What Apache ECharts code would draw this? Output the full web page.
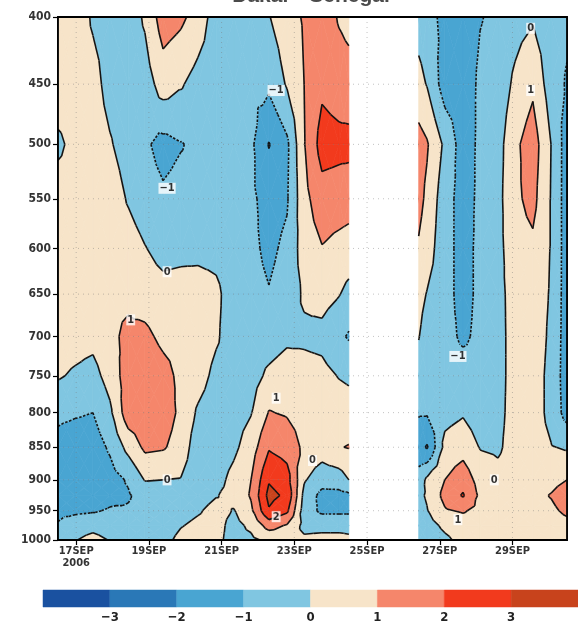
<!DOCTYPE html>
<html><head><meta charset="utf-8">
<script src="https://cdn.jsdelivr.net/npm/echarts@6/dist/echarts.min.js"></script>
<style>html,body{margin:0;padding:0;background:#fff}#c{width:578px;height:627px}</style>
</head><body><div id="c"></div>
<script>
// ---------------- data ----------------
const titleText = 'Dakar - Senegal';
// sample times (day of September 2006); 25.5 column = missing data
const times = [16.5,16.97,17.46,17.93,18.43,18.89,19.39,19.88,20.35,20.85,21.34,21.81,22.30,22.80,23.27,23.76,24.23,24.5,
               25.5,
               26.42,26.65,27.14,27.64,28.11,28.6,29.07,29.56,30.06,30.5];
const levels = [400,450,500,550,600,650,700,750,800,850,900,925,950,975,1000];
// one column per sample time, values from 400 hPa down to 1000 hPa
const field = [
 [0.5,0.6,-0.2,0.48,0.6,0.6,0.5,0.1,-0.8,-1.3,-1.5,-1.4,-1.2,-0.93,-0.6],
 [0.7,0.6,0.3,0.5,0.6,0.6,0.4,-0.14,-0.9,-1.5,-1.7,-1.6,-1.2,-0.45,-0.05],
 [-0.15,0.4,0.6,0.6,0.6,0.7,0.3,-0.35,-1.0,-1.5,-1.8,-1.6,-1.1,-0.3,0.3],
 [-0.5,-0.4,0.1,0.6,0.7,0.8,0.8,0.4,-0.2,-0.85,-1.4,-1.3,-0.9,-0.5,-0.05],
 [-0.6,-0.7,-0.5,-0.1,0.5,0.8,1.2,1.5,1.6,0.3,-0.9,-1.1,-0.9,-0.7,-0.5],
 [0.15,-0.5,-0.85,-0.6,0.05,0.6,1.2,1.6,1.7,1.2,0.05,-0.6,-0.7,-0.6,-0.5],
 [1.5,0.45,-1.3,-0.85,-0.4,0.4,0.8,1.3,1.5,1.1,0.0,-0.5,-0.6,-0.5,-0.3],
 [1.2,0.1,-1.05,-0.7,-0.3,0.45,0.7,0.8,0.8,0.6,-0.05,-0.4,-0.35,-0.05,0.25],
 [0.6,-0.4,-0.8,-0.75,-0.3,0.5,0.7,0.45,-0.15,-0.6,-0.7,-0.4,-0.1,0.2,0.4],
 [-0.5,-0.7,-0.8,-0.7,-0.35,0.25,0.15,-0.3,-0.6,-0.6,-0.35,-0.05,0.3,0.3,0.2],
 [-0.5,-0.6,-0.7,-0.7,-0.7,-0.6,-0.6,-0.5,-0.4,-0.2,0.3,0.3,-0.05,-0.3,-0.3],
 [-0.6,-0.7,-0.8,-0.8,-0.8,-0.7,-0.6,-0.4,-0.05,0.5,1.0,1.1,0.8,0.2,-0.2],
 [-0.05,-0.8,-2.05,-1.4,-1.2,-0.95,-0.5,0.2,1.05,1.9,2.9,3.3,2.9,1.4,0.2],
 [0.6,0.1,-1.2,-1.1,-0.8,-0.6,-0.2,0.5,0.9,1.6,2.4,2.8,2.2,0.9,0.3],
 [1.1,1.0,0.95,0.7,0.5,0.15,-0.2,0.4,0.6,0.8,0.1,-0.3,-0.5,-0.3,0.2],
 [1.6,1.8,2.4,1.6,0.95,0.4,-0.3,0.3,0.6,0.5,-0.6,-1.3,-1.2,-0.3,0.3],
 [0.9,1.5,2.3,1.5,0.7,0.05,-0.8,-0.05,0.5,0.95,-0.5,-1.3,-1.2,-0.3,0.3],
 [0.7,1.4,2.3,1.4,0.6,-0.3,-1.1,-0.15,0.4,1.05,0.0,-1.2,-1.2,-0.3,0.2],
 [null,null,null,null,null,null,null,null,null,null,null,null,null,null,null],
 [-0.4,0.3,1.4,1.3,0.9,0.35,0.05,-0.5,-0.9,-1.6,-0.6,-0.2,-0.35,-0.5,-0.6],
 [-0.6,-0.05,1.1,0.8,0.5,-0.05,-0.5,-0.7,-0.9,-2.1,0.2,0.1,-0.05,-0.4,-0.6],
 [-1.3,-1.5,-0.2,-0.6,-0.7,-0.7,-0.7,-0.6,-0.35,0.3,1.0,1.3,0.9,0.2,-0.2],
 [-1.6,-1.6,-1.5,-1.4,-1.3,-1.3,-1.15,-0.6,-0.1,0.6,1.6,2.1,1.1,0.5,0.3],
 [-1.05,-0.8,-0.8,-0.8,-0.8,-0.8,-0.8,-0.7,-0.5,-0.05,0.6,0.8,0.7,0.5,0.4],
 [-0.8,-0.6,-0.4,-0.3,-0.3,-0.3,-0.3,-0.3,-0.25,-0.15,0.3,0.6,0.6,0.5,0.4],
 [-0.4,0.2,0.8,0.8,0.6,0.4,0.35,0.35,0.35,0.4,0.5,0.6,0.6,0.5,0.5],
 [-0.1,0.8,1.5,1.3,0.8,0.6,0.6,0.5,0.5,0.5,0.6,0.7,0.7,0.6,0.5],
 [-0.6,-0.5,0.0,-0.05,-0.05,-0.1,-0.2,-0.3,-0.3,0.05,0.7,1.05,0.8,0.5,0.4],
 [-0.8,-1.1,-1.5,-1.5,-1.5,-1.5,-1.5,-1.5,-1.4,-0.1,1.0,1.5,1.2,0.7,0.5]
];
const contourLevels = [-3,-2,-1,0,1,2,3];
const bandColors = ['#1a51a0','#2a78b7','#49a5d2','#80c6e1','#f7e4c9','#f5866b','#f23a1d','#c8431c'];
const xTickDays = [17,19,21,23,25,27,29];
const xTickLabels = ['17SEP\n2006','19SEP','21SEP','23SEP','25SEP','27SEP','29SEP'];
const yTicks = [400,450,500,550,600,650,700,750,800,850,900,950,1000];
const yTickLabels = ['400','450','500','550','600','650','700','750','800','850','900','950','1000'];
const cbLabels = ['\u22123','\u22122','\u22121','0','1','2','3'];
const labelT = [22.5,19.5,19.5,18.5,19.5,22.5,23.5,22.5,29.5,29.5,27.5,28.5,27.5];
const labelP = [455,540,625,680,900,780,870,960,408,455,725,900,965];
const labelText = ['\u22121','\u22121','0','1','0','1','0','2','0','1','\u22121','0','1'];

// ---------------- rendering ----------------
const FONT = "'Liberation Sans Narrow','DejaVu Sans Condensed','Liberation Sans',sans-serif";
const lnLevels = levels.map(Math.log);
const cells = [];
for (let i = 0; i < times.length - 1; i++)
  for (let j = 0; j < levels.length - 1; j++)
    cells.push([times[i], lnLevels[j], i, j]);

function clip(poly, level, keepAbove) {
  const out = [];
  for (let k = 0; k < poly.length; k++) {
    const a = poly[k], b = poly[(k + 1) % poly.length];
    const ain = keepAbove ? a.v >= level : a.v < level;
    const bin = keepAbove ? b.v >= level : b.v < level;
    if (ain) out.push(a);
    if (ain !== bin) {
      const f = (level - a.v) / (b.v - a.v);
      out.push({x: a.x + f * (b.x - a.x), y: a.y + f * (b.y - a.y), v: level});
    }
  }
  return out;
}
function cellTris(api) {
  const i = api.value(2), j = api.value(3);
  const vs = [field[i][j], field[i+1][j], field[i+1][j+1], field[i][j+1]];
  if (vs.some(v => v === null || v === undefined)) return null;
  const cs = [[i,j],[i+1,j],[i+1,j+1],[i,j+1]].map((ij, k) => {
    const p = api.coord([times[ij[0]], lnLevels[ij[1]]]);
    return {x: p[0], y: p[1], v: vs[k]};
  });
  const m = {x: (cs[0].x + cs[2].x) / 2, y: (cs[0].y + cs[2].y) / 2, v: (vs[0] + vs[1] + vs[2] + vs[3]) / 4};
  return [[cs[0], cs[1], m], [cs[1], cs[2], m], [cs[2], cs[3], m], [cs[3], cs[0], m]];
}
function renderFill(params, api) {
  const tris = cellTris(api);
  if (!tris) return null;
  const children = [];
  tris.forEach(tri => {
    for (let b = 0; b < bandColors.length; b++) {
      let poly = tri;
      if (b > 0) poly = clip(poly, contourLevels[b - 1], true);
      if (poly.length >= 3 && b < bandColors.length - 1) poly = clip(poly, contourLevels[b], false);
      if (poly.length >= 3) {
        children.push({type: 'polygon', shape: {points: poly.map(p => [p.x, p.y])},
          style: {fill: bandColors[b], stroke: bandColors[b], lineWidth: 0.7}});
      }
    }
  });
  return {type: 'group', children};
}
function renderLines(params, api) {
  const tris = cellTris(api);
  if (!tris) return null;
  const children = [];
  tris.forEach(tri => {
    contourLevels.forEach(L => {
      const pts = [];
      for (let k = 0; k < 3; k++) {
        const a = tri[k], b = tri[(k + 1) % 3];
        if ((a.v >= L) !== (b.v >= L)) {
          const f = (L - a.v) / (b.v - a.v);
          pts.push([a.x + f * (b.x - a.x), a.y + f * (b.y - a.y)]);
        }
      }
      if (pts.length === 2) {
        children.push({type: 'line', shape: {x1: pts[0][0], y1: pts[0][1], x2: pts[1][0], y2: pts[1][1]},
          style: {stroke: '#141414', lineWidth: 1.6, lineDash: L < 0 ? [2.5, 1.5] : null, lineCap: 'butt'}});
      }
    });
  });
  return {type: 'group', children};
}
function renderGrid(params, api) {
  const ch = [];
  const st = {stroke: 'rgba(120,120,120,0.45)', lineWidth: 1, lineDash: [1, 4]};
  xTickDays.forEach(d => {
    const a = api.coord([d, lnLevels[0]]), b = api.coord([d, lnLevels[lnLevels.length - 1]]);
    ch.push({type: 'line', shape: {x1: a[0], y1: a[1], x2: b[0], y2: b[1]}, style: st});
  });
  yTicks.slice(1, -1).forEach(p => {
    const a = api.coord([times[0], Math.log(p)]), b = api.coord([times[times.length - 1], Math.log(p)]);
    ch.push({type: 'line', shape: {x1: a[0], y1: a[1], x2: b[0], y2: b[1]}, style: st});
  });
  return {type: 'group', children: ch};
}
function renderFrame(params, api) {
  const a = api.coord([times[0], lnLevels[0]]);
  const b = api.coord([times[times.length - 1], lnLevels[lnLevels.length - 1]]);
  return {type: 'group', children: [
    {type: 'rect', shape: {x: b[0] + 1, y: a[1] - 2, width: 20, height: b[1] - a[1] + 4}, style: {fill: '#fff'}},
    {type: 'rect', shape: {x: a[0], y: a[1], width: b[0] - a[0], height: b[1] - a[1]},
     style: {fill: null, stroke: '#000', lineWidth: 1.8}}
  ]};
}
const cbData = bandColors.map((c, k) => [k - 4, k - 3, k]);
function renderCb(params, api) {
  const a = api.coord([api.value(0), 1]), b = api.coord([api.value(1), 0]);
  return {type: 'rect', shape: {x: a[0], y: a[1], width: b[0] - a[0], height: b[1] - a[1]},
    style: {fill: bandColors[api.value(2)], stroke: bandColors[api.value(2)], lineWidth: 0.5}};
}
const labelData = labelT.map((t, k) => [t, Math.log(labelP[k]), labelText[k]]);

const chart = echarts.init(document.getElementById('c'), null, {renderer: 'canvas', width: 578, height: 627});
chart.setOption({
  animation: false,
  backgroundColor: '#fff',
  graphic: [{type: 'text', x: 311, y: 7, silent: true,
    style: {text: titleText, font: "bold 21px 'Liberation Sans',sans-serif", fill: '#4a4a4a', align: 'center', verticalAlign: 'bottom'}}],
  grid: [
    {left: 58, right: 11, top: 17, bottom: 87, show: true, borderColor: '#000', borderWidth: 1.5, backgroundColor: '#fff'},
    {left: 43, right: 0, top: 590, height: 17}
  ],
  xAxis: [
    {type: 'value', gridIndex: 0, min: times[0], max: times[times.length - 1],
     axisLine: {show: true, lineStyle: {color: '#000', width: 1.5}},
     axisTick: {show: true, customValues: xTickDays, length: 5, lineStyle: {color: '#000', width: 1.2}},
     axisLabel: {customValues: xTickDays, margin: 5, fontFamily: FONT, fontSize: 11, fontWeight: 'bold', color: '#333', lineHeight: 12,
       formatter: v => xTickLabels[xTickDays.indexOf(Math.round(v))] || ''},
     splitLine: {show: false}},
    {type: 'value', gridIndex: 1, min: -4, max: 4,
     axisLine: {show: false}, axisTick: {show: false}, splitLine: {show: false},
     axisLabel: {customValues: [-3,-2,-1,0,1,2,3], margin: 4, fontFamily: FONT, fontSize: 13, fontWeight: 'bold', color: '#222',
       formatter: v => cbLabels[Math.round(v) + 3]}}
  ],
  yAxis: [
    {type: 'value', gridIndex: 0, inverse: true, min: lnLevels[0], max: lnLevels[lnLevels.length - 1],
     axisLine: {show: true, lineStyle: {color: '#000', width: 1.5}},
     axisTick: {show: true, customValues: yTicks.map(Math.log), length: 5, lineStyle: {color: '#000', width: 1.2}},
     axisLabel: {customValues: yTicks.map(Math.log), margin: 7, fontFamily: FONT, fontSize: 12, fontWeight: 'bold', color: '#333',
       formatter: v => { const p = Math.round(Math.exp(v)); const k = yTicks.indexOf(p); return k >= 0 ? yTickLabels[k] : ''; }},
     splitLine: {show: false}},
    {type: 'value', gridIndex: 1, min: 0, max: 1, show: false}
  ],
  series: [
    {type: 'custom', xAxisIndex: 0, yAxisIndex: 0, data: cells, renderItem: renderFill, silent: true, z: 1, clip: true},
    {type: 'custom', xAxisIndex: 0, yAxisIndex: 0, data: [[times[0], lnLevels[0]]], renderItem: renderGrid, silent: true, z: 2},
    {type: 'custom', xAxisIndex: 0, yAxisIndex: 0, data: cells, renderItem: renderLines, silent: true, z: 3, clip: true},
    {type: 'scatter', xAxisIndex: 0, yAxisIndex: 0, data: labelData, symbolSize: 0, silent: true, z: 4,
     label: {show: true, position: 'inside', formatter: p => p.value[2], backgroundColor: '#fff', padding: [0, 1],
       color: '#000', fontFamily: FONT, fontSize: 11, fontWeight: 'bold'}},
    {type: 'custom', xAxisIndex: 0, yAxisIndex: 0, data: [[times[0], lnLevels[0]]], renderItem: renderFrame, silent: true, z: 5},
    {type: 'custom', xAxisIndex: 1, yAxisIndex: 1, data: cbData, renderItem: renderCb, silent: true}
  ]
});
</script>
</body></html>
